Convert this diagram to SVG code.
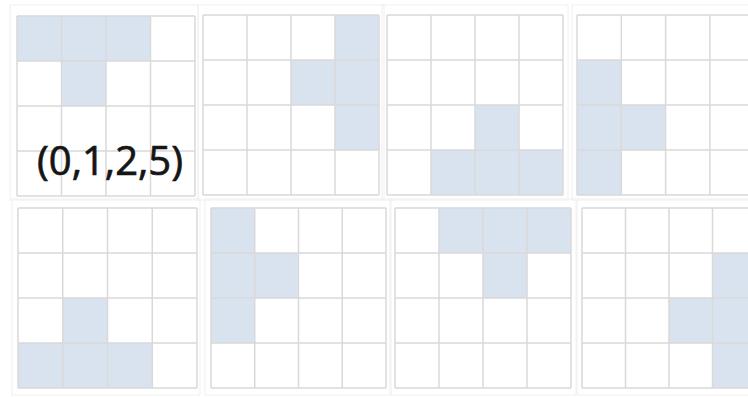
<svg xmlns="http://www.w3.org/2000/svg" xmlns:xlink="http://www.w3.org/1999/xlink" width="748" height="397" viewBox="0 0 748 397">
  <style>
    .bg { fill: #ffffff; }
    .frame { fill: none; stroke: #f0f0f0; stroke-width: 1; }
    .cell { fill: #d9e3f0; }
    .lines { fill: none; stroke: #d9d9d9; stroke-width: 1.5; vector-effect: non-scaling-stroke; }
    .label { font-family: "Open Sans", "Liberation Sans", sans-serif; font-size: 40px; fill: #151515; stroke: #151515; stroke-width: 0.7; }
  </style>
  <defs>
    <path id="gridlines" class="lines" d="M0 0H4M0 1H4M0 2H4M0 3H4M0 4H4M0 0V4M1 0V4M2 0V4M3 0V4M4 0V4"/>
  </defs>
  <rect class="bg" x="0" y="0" width="748" height="397"/>

  <g id="frames">
    <rect class="frame" x="10" y="5" width="188" height="195"/>
    <rect class="frame" x="198" y="5" width="186" height="195"/>
    <rect class="frame" x="382" y="5" width="186" height="195"/>
    <rect class="frame" x="572" y="5" width="190" height="195"/>
    <rect class="frame" x="12" y="199" width="188" height="196"/>
    <rect class="frame" x="205" y="199" width="186" height="196"/>
    <rect class="frame" x="390" y="199" width="186" height="196"/>
    <rect class="frame" x="577" y="199" width="190" height="196"/>
  </g>

  <g id="grid1" transform="translate(17,16) scale(44.5,45)">
    <rect class="cell" x="0" y="0" width="3" height="1"/>
    <rect class="cell" x="1" y="1" width="1" height="1"/>
    <use xlink:href="#gridlines" href="#gridlines"/>
  </g>
  <g id="label1">
    <text class="label" x="37" y="175" textLength="146" lengthAdjust="spacingAndGlyphs">(0,1,2,5)</text>
  </g>

  <g id="grid2" transform="translate(203,15) scale(44,45)">
    <rect class="cell" x="3" y="0" width="1" height="3"/>
    <rect class="cell" x="2" y="1" width="1" height="1"/>
    <use xlink:href="#gridlines" href="#gridlines"/>
  </g>

  <g id="grid3" transform="translate(387,15) scale(44,45)">
    <rect class="cell" x="2" y="2" width="1" height="1"/>
    <rect class="cell" x="1" y="3" width="3" height="1"/>
    <use xlink:href="#gridlines" href="#gridlines"/>
  </g>

  <g id="grid4" transform="translate(577,15) scale(44.3,45)">
    <rect class="cell" x="0" y="1" width="1" height="3"/>
    <rect class="cell" x="1" y="2" width="1" height="1"/>
    <use xlink:href="#gridlines" href="#gridlines"/>
  </g>

  <g id="grid5" transform="translate(18,208) scale(44.75,45)">
    <rect class="cell" x="1" y="2" width="1" height="1"/>
    <rect class="cell" x="0" y="3" width="3" height="1"/>
    <use xlink:href="#gridlines" href="#gridlines"/>
  </g>

  <g id="grid6" transform="translate(211,208) scale(43.75,45)">
    <rect class="cell" x="0" y="0" width="1" height="3"/>
    <rect class="cell" x="1" y="1" width="1" height="1"/>
    <use xlink:href="#gridlines" href="#gridlines"/>
  </g>

  <g id="grid7" transform="translate(395,208) scale(44,45)">
    <rect class="cell" x="1" y="0" width="3" height="1"/>
    <rect class="cell" x="2" y="1" width="1" height="1"/>
    <use xlink:href="#gridlines" href="#gridlines"/>
  </g>

  <g id="grid8" transform="translate(582,208) scale(43.5,45)">
    <rect class="cell" x="3" y="1" width="1" height="3"/>
    <rect class="cell" x="2" y="2" width="1" height="1"/>
    <use xlink:href="#gridlines" href="#gridlines"/>
  </g>

  <g id="connectors"/>
</svg>
